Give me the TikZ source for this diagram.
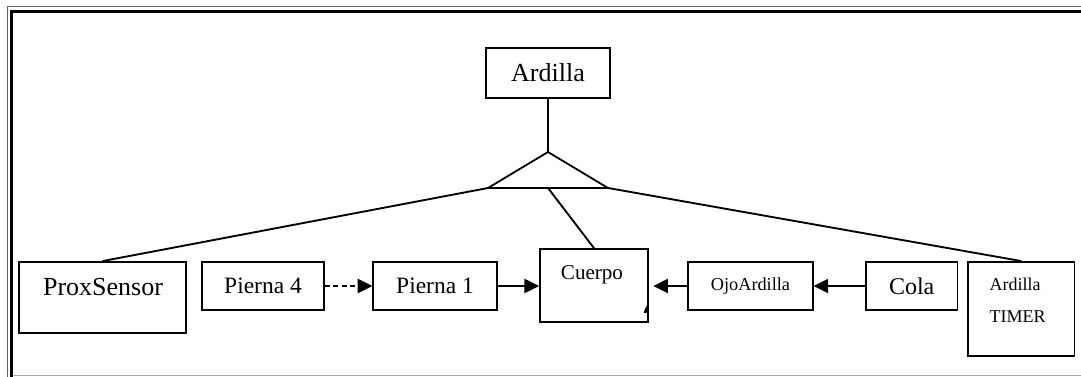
\documentclass[tikz,border=0pt]{standalone}
\usepackage{fontspec}
\setmainfont{Liberation Serif}
\usetikzlibrary{calc,positioning,arrows.meta}

\begin{document}
\begin{tikzpicture}
	[x=0.75pt,y=-0.75pt,line width=1.4pt,>={Triangle[length=11pt,width=10.5pt]},
	every node/.style={shape=rectangle,draw,line width=1.4pt,inner sep=0pt}]
	\useasboundingbox (0,0) rectangle (1081,377);
	% marco
	\draw[black!60,line width=0.75pt] (7,377) -- (7,7) -- (1081,7);
	\draw[line width=2.6pt] (11.5,377) -- (11.5,11.75) -- (1081,11.75);
	\draw[black!35,line width=0.75pt] (13,376) -- (1081,376);

	\node[minimum width=93.5pt,minimum height=37pt,font=\fontsize{19.5}{23}\selectfont] (ardilla) at (548,73) {Ardilla};

	\node[minimum width=125.25pt,minimum height=53.5pt] (prox) at (102.5,297.7) {};
	\node[draw=none,font=\fontsize{19.5}{23}\selectfont,anchor=base] at (103,296) {ProxSensor};
	\node[minimum width=91.5pt,minimum height=36pt,font=\fontsize{17.6}{21}\selectfont] (pierna4) at (263,286) {Pierna 4};
	\node[minimum width=92.5pt,minimum height=36pt,font=\fontsize{17.6}{21}\selectfont] (pierna1) at (435,286) {Pierna 1};
	\node[minimum width=81.2pt,minimum height=54.5pt] (cuerpo) at (594.2,285.7) {};
	\node[draw=none,font=\fontsize{15.8}{19}\selectfont,anchor=base] at (592,279.3) {Cuerpo};
	\node[minimum width=93.2pt,minimum height=36pt,font=\fontsize{13.7}{16}\selectfont] (ojo) at (750.5,286) {OjoArdilla};
	\node[minimum width=68.6pt,minimum height=36pt,font=\fontsize{18}{21}\selectfont] (cola) at (911.7,286) {Cola};
	\node[minimum width=80pt,minimum height=70.5pt] (timer) at (1021.2,309) {};
	\node[draw=none,font=\fontsize{13.5}{23.8}\selectfont,align=left,anchor=north west] at (988.6,277) {Ardilla\\TIMER};

	% herencia
	\coordinate (tri) at (548,152);
	\coordinate (triL) at (488,188);
	\coordinate (triR) at (608,188);
	\coordinate (triM) at (548,188);
	\draw (tri) -- (triL) -- (triR) -- cycle;
	\draw (ardilla) -- (tri);
	\path
	\foreach \desde/\hasta in {triL/prox.north,triM/cuerpo.north,triR/timer.north}
	{
		(\desde) edge (\hasta)
	};

	% mensajes
	\draw[->,dash pattern=on 3.75pt off 2.5pt] (pierna4) -- (pierna1);
	\draw[->] (pierna1) -- (pierna1 -| cuerpo.west);
	\draw[->,shorten >=3pt] (ojo) -- (ojo -| cuerpo.east);
	\draw[->] (cola) -- (ojo);
	\fill (643.5,313) -- (646.5,305.5) -- (647.5,313) -- cycle;
\end{tikzpicture}
\end{document}
